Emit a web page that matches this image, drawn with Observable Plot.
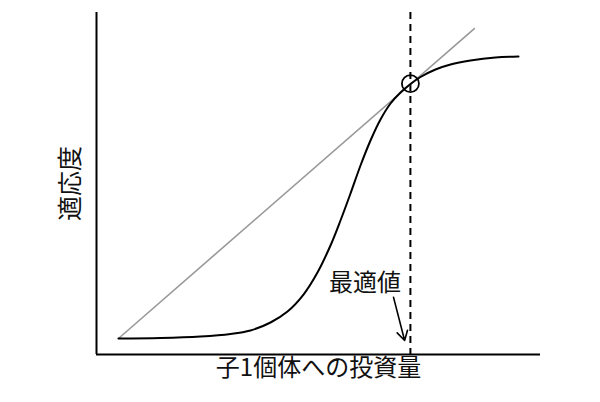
<!DOCTYPE html>
<html><head><meta charset="utf-8">
<script src="https://cdn.jsdelivr.net/npm/d3@7"></script>
<script src="https://cdn.jsdelivr.net/npm/@observablehq/plot@0.6"></script>
<style>body{margin:0;background:#fff}</style>
</head><body><div id="chart"></div>
<script>
const curveX = [0.495,1.441,2.342,3.018,3.468,3.919,4.302,4.662,4.977,5.270,5.495,5.721,5.946,6.171,6.396,6.622,6.847,7.072,7.297,7.635,7.973,8.423,8.986,9.505];
const curveY = [0.0468,0.0482,0.0526,0.0599,0.0702,0.0936,0.1257,0.1754,0.2398,0.3187,0.3918,0.4708,0.5526,0.6257,0.6871,0.7339,0.7661,0.7909,0.8114,0.8333,0.8480,0.8596,0.8684,0.8713];
const lineX = [0.495, 8.51];
const lineY = [0.0468, 0.953];
const optimumX = 7.07;
const optimumY = 0.792;
const labelPos = [6.05, 0.208];
const arrowFrom = [6.69, 0.167];
const arrowTo = [6.94, 0.041];
const xLabel = "子1個体への投資量";
const yLabel = "適応度";
const optLabel = "最適値";

const curve = curveX.map((x,i)=>({x, y: curveY[i]}));
const line = lineX.map((x,i)=>({x, y: lineY[i]}));
const font = "'Noto Sans CJK JP', 'Noto Sans', sans-serif";

const chart = Plot.plot({
  width: 600, height: 402,
  marginLeft: 96, marginRight: 60, marginTop: 12, marginBottom: 48,
  x: {domain: [0, 10], axis: null},
  y: {domain: [0, 1], axis: null},
  style: {fontFamily: font, background: "#fff"},
  marks: [
    Plot.ruleX([optimumX], {stroke: "#000", strokeWidth: 2, strokeDasharray: "7,5"}),
    Plot.line(line, {x: "x", y: "y", stroke: "#999", strokeWidth: 1.6}),
    Plot.line(curve, {x: "x", y: "y", stroke: "#000", strokeWidth: 2, curve: "catmull-rom"}),
    Plot.dot([{x: optimumX, y: optimumY}], {x: "x", y: "y", r: 8.5, stroke: "#000", strokeWidth: 1.8, fill: "none"}),
    Plot.ruleX([0], {stroke: "#000", strokeWidth: 2}),
    Plot.ruleY([0], {stroke: "#000", strokeWidth: 2}),
    Plot.text([optLabel], {x: () => labelPos[0], y: () => labelPos[1], text: d => d, fontSize: 24, fill: "#111"}),
    Plot.arrow([0], {x1: () => arrowFrom[0], y1: () => arrowFrom[1], x2: () => arrowTo[0], y2: () => arrowTo[1], stroke: "#000", strokeWidth: 1.6, headLength: 10}),
    Plot.text([xLabel], {frameAnchor: "bottom", dy: 21, text: d => d, fontSize: 24, fill: "#111"}),
    Plot.text([yLabel], {frameAnchor: "left", dx: -26, rotate: -90, textAnchor: "middle", text: d => d, fontSize: 25, fill: "#111"})
  ]
});
document.getElementById("chart").appendChild(chart);
</script>
</body></html>
